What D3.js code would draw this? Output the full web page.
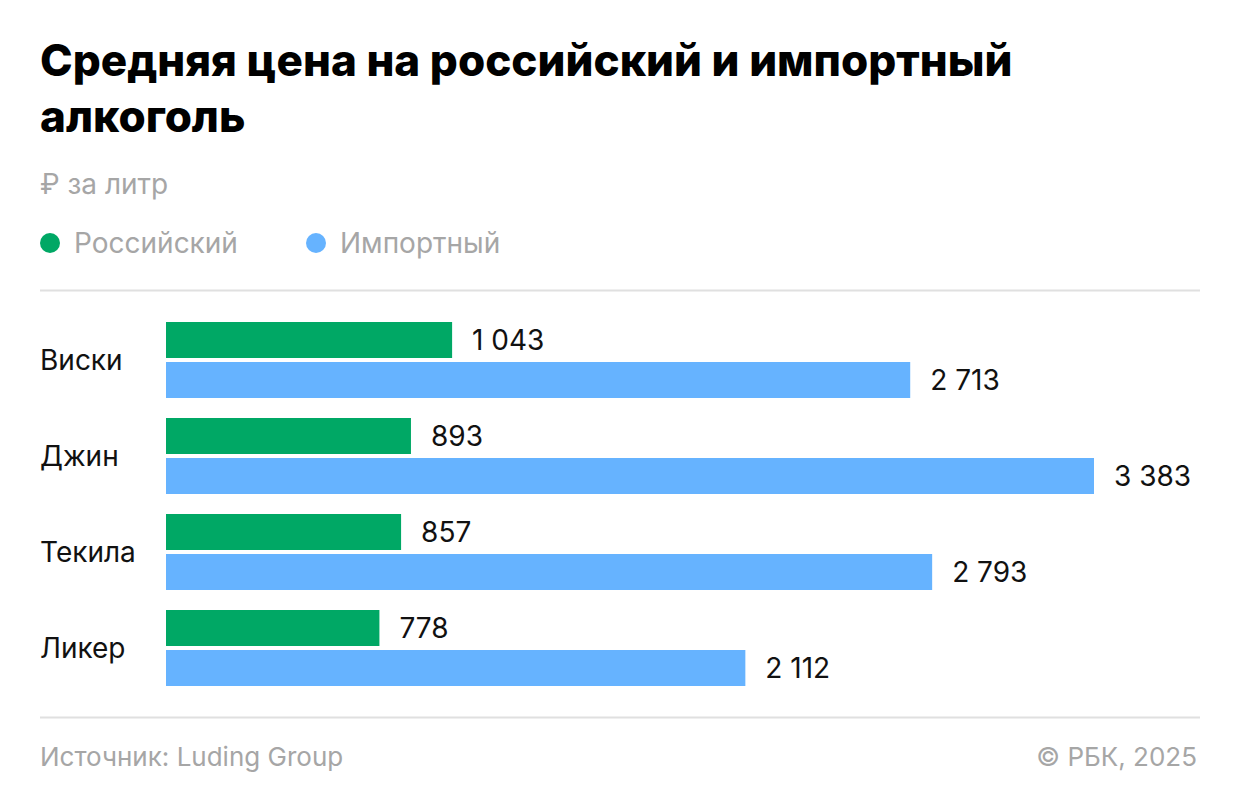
<!DOCTYPE html>
<html><head><meta charset="utf-8">
<script src="https://cdn.jsdelivr.net/npm/d3@7"></script>
<style>body{margin:0;background:#fff;font-family:Inter,"Noto Sans",sans-serif}</style>
</head><body><svg id="c" width="1240" height="806"></svg>
<script>
const categories=["Виски","Джин","Текила","Ликер"];
const russian=[1043,893,857,778];
const imported=[2713,3383,2793,2112];
const seriesNames=["Российский","Импортный"];
const colors=["#00a865","#66b3ff"];
const svg=d3.select("#c");
const fmt=v=>d3.format(",")(v).replace(/,/g," ");
svg.append("text").attr("x",40).attr("y",76).attr("font-size",44).attr("font-weight",800).attr("fill","#000").text("Средняя цена на российский и импортный");
svg.append("text").attr("x",40).attr("y",132).attr("font-size",44).attr("font-weight",800).attr("fill","#000").text("алкоголь");
svg.append("text").attr("x",40).attr("y",194).attr("font-size",28).attr("fill","#a6a6a6").text("₽ за литр");
const lx=[50,316];
seriesNames.forEach((n,i)=>{
 svg.append("circle").attr("cx",lx[i]).attr("cy",243).attr("r",10).attr("fill",colors[i]);
 svg.append("text").attr("x",lx[i]+24).attr("y",253).attr("font-size",28).attr("fill","#a6a6a6").text(n);
});
svg.append("line").attr("x1",40).attr("x2",1200).attr("y1",290.5).attr("y2",290.5).attr("stroke","#e0e0e0").attr("stroke-width",2);
svg.append("line").attr("x1",40).attr("x2",1200).attr("y1",717.5).attr("y2",717.5).attr("stroke","#e0e0e0").attr("stroke-width",2);
const x=d3.scaleLinear().domain([0,3383]).range([166,1094]);
const y=d3.scaleBand().domain(categories).range([322,706]).paddingInner(0.21).paddingOuter(0);
const bh=36;
categories.forEach((c,i)=>{
 const y0=322+i*96;
 [russian[i],imported[i]].forEach((v,j)=>{
  const yy=y0+j*40;
  svg.append("rect").attr("x",x(0)).attr("y",yy).attr("width",x(v)-x(0)).attr("height",bh).attr("fill",colors[j]);
  svg.append("text").attr("x",x(v)+20).attr("y",yy+bh/2+10).attr("font-size",28).attr("fill","#111").text(fmt(v));
 });
 svg.append("text").attr("x",40).attr("y",y0+48).attr("font-size",28).attr("fill","#111").text(c);
});
svg.append("text").attr("x",40).attr("y",766).attr("font-size",26).attr("fill","#a6a6a6").text("Источник: Luding Group");
svg.append("text").attr("x",1197).attr("y",766).attr("text-anchor","end").attr("font-size",26).attr("fill","#a6a6a6").text("© РБК, 2025");
</script></body></html>
